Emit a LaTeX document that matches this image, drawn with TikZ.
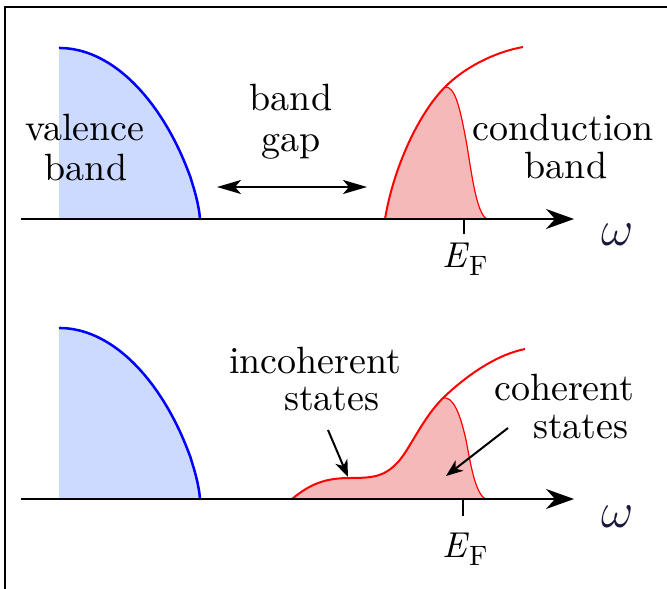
\documentclass[tikz,border=0pt]{standalone}
\usepackage{fix-cm}
\usepackage{fontspec}
\IfFontExistsTF{lmroman10-regular.otf}{%
  \setmainfont{lmroman10-regular.otf}[ItalicFont=lmroman10-italic.otf]%
  \def\mylblsize{38}}{%
  \def\mylblsize{42}}
\usetikzlibrary{arrows.meta}
\definecolor{bandblue}{RGB}{0,0,255}
\definecolor{bandbluefill}{RGB}{204,218,255}
\definecolor{bandred}{RGB}{255,0,0}
\definecolor{bandredfill}{RGB}{245,185,185}
\definecolor{omegacol}{RGB}{25,25,60}
\begin{document}
\begin{tikzpicture}[x=1pt,y=-1pt,
  lbl/.style={inner sep=0pt, font=\fontsize{\mylblsize}{\mylblsize}\selectfont},
  axisline/.style={line width=2pt, -{Stealth[length=28pt,width=20pt,inset=9pt]}},
  ptr/.style={line width=2pt, -{Stealth[length=17pt,width=13pt,inset=5pt]}},
  gaparrow/.style={line width=2pt, {Stealth[length=24pt,width=14pt,inset=6pt]}-{Stealth[length=24pt,width=14pt,inset=6pt]}},
  bluecurve/.style={bandblue, line width=2.5pt},
  redcurve/.style={bandred, line width=2pt},
  cutoff/.style={bandred, line width=1.2pt},
  tickline/.style={line width=2pt},
  efl/.style={inner sep=0pt, anchor=base west},
  omeg/.style={inner sep=0pt, text=omegacol, font=\fontsize{50}{50}\selectfont}]

\useasboundingbox (0,0) rectangle (667,589);
\draw[line width=2.4pt] (5,589) -- (5,7) -- (667,7);

% ---------- top panel ----------
\fill[bandbluefill] (59,219) -- plot[domain=0:0.995, samples=80] ({59+141*\x},{219-171*(1-\x*\x)^0.7}) -- (200,219) -- cycle;
\draw[bluecurve] plot[domain=0:0.995, samples=80] ({59+141*\x},{219-171*(1-\x*\x)^0.7}) -- (200,219);

\fill[bandredfill] (385,219) .. controls (394,165) and (420,112) .. (445,87)
  .. controls (455,86) and (460,108) .. (466,140)
  .. controls (471,168) and (476,214) .. (487,219) -- cycle;
\draw[cutoff] (445,87) .. controls (455,86) and (460,108) .. (466,140)
  .. controls (471,168) and (476,214) .. (487,219);
\draw[redcurve] (385,219) .. controls (394,165) and (420,112) .. (445,87)
  .. controls (465,67) and (495,52) .. (523,47);

\coordinate (ax1s) at (21,219);
\coordinate (ax1e) at (574,219);
\draw[axisline] (ax1s) -- (ax1e);
\coordinate (t1a) at (464,219);
\coordinate (t1b) at (464,234);
\draw[tickline] (t1a) -- (t1b);

\coordinate (g1) at (217,187);
\coordinate (g2) at (367,187);
\draw[gaparrow] (g1) -- (g2);

\node[lbl, anchor=base] (val1) at (85,140) {valence};
\node[lbl, anchor=base] (val2) at (86,180) {band};
\node[lbl, anchor=base] (gap1) at (291,110) {band};
\node[lbl, anchor=base] (gap2) at (291,151) {gap};
\node[lbl, anchor=base] (con1) at (563,140) {conduction};
\node[lbl, anchor=base] (con2) at (566,178) {band};
\node[efl] (ef1) at (442,267) {\fontsize{36}{36}\selectfont\itshape E\/\raisebox{-8pt}{\fontsize{28}{28}\selectfont\upshape F}};
\node[omeg] (w1) at (618,235) {$\omega$};

% ---------- bottom panel ----------
\fill[bandbluefill] (59,499) -- plot[domain=0:0.995, samples=80] ({59+141*\x},{499-171*(1-\x*\x)^0.7}) -- (200,499) -- cycle;
\draw[bluecurve] plot[domain=0:0.995, samples=80] ({59+141*\x},{499-171*(1-\x*\x)^0.7}) -- (200,499);

\fill[bandredfill] (292,499) .. controls (310,484) and (325,478) .. (350,478)
  .. controls (375,478) and (385,476) .. (398,462)
  .. controls (410,449) and (422,419) .. (443,398)
  .. controls (453,396) and (460,413) .. (466,440)
  .. controls (470,460) and (475,495) .. (486,499) -- cycle;
\draw[cutoff] (443,398) .. controls (453,396) and (460,413) .. (466,440)
  .. controls (470,460) and (475,495) .. (486,499);
\draw[redcurve] (292,499) .. controls (310,484) and (325,478) .. (350,478)
  .. controls (375,478) and (385,476) .. (398,462)
  .. controls (410,449) and (422,419) .. (443,398)
  .. controls (465,377) and (495,355) .. (525,349);

\coordinate (ax2s) at (21,499);
\coordinate (ax2e) at (574,499);
\draw[axisline] (ax2s) -- (ax2e);
\coordinate (t2a) at (463,499);
\coordinate (t2b) at (463,516);
\draw[tickline] (t2a) -- (t2b);

\node[lbl, anchor=base west] (inc1) at (229,373) {incoherent};
\node[lbl, anchor=base west] (inc2) at (284,410) {states};
\node[lbl, anchor=base west] (coh1) at (494,400) {coherent};
\node[lbl, anchor=base west] (coh2) at (533,438) {states};

\coordinate (p1s) at (328,430);
\coordinate (p1e) at (348,477);
\draw[ptr] (p1s) -- (p1e);
\coordinate (p2s) at (508,428);
\coordinate (p2e) at (446,476);
\draw[ptr] (p2s) -- (p2e);

\node[efl] (ef2) at (442,557) {\fontsize{36}{36}\selectfont\itshape E\/\raisebox{-8pt}{\fontsize{28}{28}\selectfont\upshape F}};
\node[omeg] (w2) at (618,517) {$\omega$};
\end{tikzpicture}
\end{document}
